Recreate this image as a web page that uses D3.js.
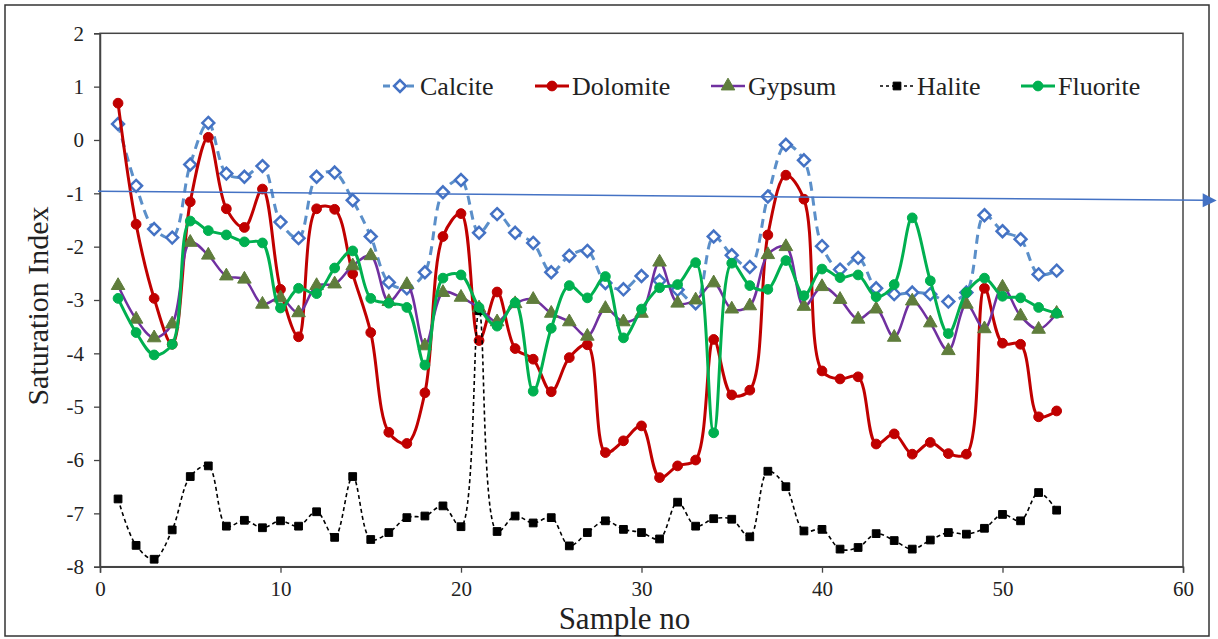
<!DOCTYPE html>
<html>
<head>
<meta charset="UTF-8">
<title>Saturation Index</title>
<script src="https://d3js.org/d3.v7.min.js"></script>
<style>
  body { margin: 0; background: #fff; }
  text { font-family: "Liberation Serif", "DejaVu Serif", serif; fill: #222; }
</style>
</head>
<body>
<div id="chart"></div>
<script>
(function(d3) {

  var samples = [1,2,3,4,5,6,7,8,9,10,11,12,13,14,15,16,17,18,19,20,21,22,23,24,25,26,27,28,29,30,
                 31,32,33,34,35,36,37,38,39,40,41,42,43,44,45,46,47,48,49,50,51,52,53];

  var calcite = [0.30,-0.86,-1.67,-1.83,-0.46,0.32,-0.63,-0.69,-0.49,-1.54,-1.84,-0.69,-0.61,-1.13,-1.81,-2.67,-2.78,-2.48,-0.98,-0.75,
                 -1.74,-1.39,-1.74,-1.93,-2.48,-2.17,-2.08,-2.68,-2.80,-2.55,-2.64,-2.81,-3.06,-1.81,-2.16,-2.38,-1.06,-0.09,-0.38,-1.99,
                 -2.43,-2.21,-2.78,-2.89,-2.86,-2.89,-3.03,-2.86,-1.41,-1.71,-1.86,-2.52,-2.45];
  var dolomite = [0.69,-1.58,-2.97,-3.83,-1.16,0.05,-1.29,-1.64,-0.92,-2.80,-3.69,-1.29,-1.30,-2.51,-3.61,-5.48,-5.69,-4.74,-1.81,-1.38,
                  -3.76,-2.85,-3.91,-4.11,-4.72,-4.08,-3.84,-5.86,-5.64,-5.36,-6.33,-6.11,-6.00,-3.74,-4.78,-4.69,-1.78,-0.66,-1.11,-4.33,
                  -4.48,-4.44,-5.70,-5.51,-5.89,-5.67,-5.88,-5.89,-2.78,-3.81,-3.83,-5.19,-5.08];
  var gypsum = [-2.73,-3.36,-3.71,-3.45,-1.92,-2.16,-2.55,-2.61,-3.08,-2.96,-3.24,-2.73,-2.70,-2.36,-2.17,-3.03,-2.71,-3.86,-2.86,-2.95,
                -3.15,-3.41,-3.07,-2.99,-3.25,-3.41,-3.68,-3.16,-3.41,-3.25,-2.29,-3.06,-3.00,-2.68,-3.17,-3.11,-2.15,-2.00,-3.12,-2.75,
                -2.99,-3.36,-3.17,-3.70,-3.02,-3.43,-3.95,-3.08,-3.54,-2.76,-3.30,-3.55,-3.25];
  var halite = [-6.73,-7.60,-7.86,-7.31,-6.31,-6.11,-7.24,-7.13,-7.27,-7.14,-7.24,-6.97,-7.45,-6.31,-7.49,-7.36,-7.08,-7.05,-6.86,-7.25,
                -3.20,-7.34,-7.05,-7.18,-7.08,-7.61,-7.36,-7.14,-7.30,-7.36,-7.48,-6.79,-7.24,-7.10,-7.11,-7.44,-6.21,-6.50,-7.33,-7.30,
                -7.67,-7.64,-7.38,-7.51,-7.67,-7.50,-7.36,-7.39,-7.28,-7.02,-7.14,-6.61,-6.94];
  var fluorite = [-2.97,-3.61,-4.03,-3.83,-1.52,-1.70,-1.78,-1.91,-1.93,-3.15,-2.78,-2.88,-2.40,-2.08,-2.97,-3.06,-3.14,-4.22,-2.59,-2.53,
                  -3.14,-3.49,-3.05,-4.71,-3.53,-2.73,-2.96,-2.56,-3.71,-3.17,-2.77,-2.71,-2.30,-5.49,-2.31,-2.73,-2.80,-2.26,-2.92,-2.42,
                  -2.58,-2.53,-2.94,-2.71,-1.46,-2.64,-3.63,-2.86,-2.59,-2.93,-2.96,-3.14,-3.25];

  var seriesNames = ['Calcite', 'Dolomite', 'Gypsum', 'Halite', 'Fluorite'];
  var xTicks = [0, 10, 20, 30, 40, 50, 60];
  var yTicks = [-8, -7, -6, -5, -4, -3, -2, -1, 0, 1, 2];
  // annotation arrow drawn across the chart (data units)
  var arrowFrom = [0, -0.96];
  var arrowTo = [61.2, -1.13];

  var width = 1218, height = 639;
  var left = 100, right = 1183, top = 33.3, bottom = 566.7;
  var serif = '"Liberation Serif", "Times New Roman", serif';

  var svg = d3.select('#chart').append('svg')
      .attr('width', width)
      .attr('height', height);

  // outer frame
  svg.append('rect')
      .attr('x', 5).attr('y', 5)
      .attr('width', 1204).attr('height', 631)
      .attr('fill', '#fff')
      .attr('stroke', '#333')
      .attr('stroke-width', 1.5);

  var x = d3.scaleLinear().domain([0, 60]).range([left, right]);
  var y = d3.scaleLinear().domain([-8, 2]).range([bottom, top]);

  // plot border
  svg.append('rect')
      .attr('x', left).attr('y', top)
      .attr('width', right - left).attr('height', bottom - top)
      .attr('fill', 'none')
      .attr('stroke', '#444')
      .attr('stroke-width', 1.5);

  var xAxis = svg.append('g')
      .attr('transform', 'translate(0,' + bottom + ')')
      .call(d3.axisBottom(x).tickValues(xTicks).tickSize(6).tickPadding(8).tickFormat(function(d) { return d; }));
  var yAxis = svg.append('g')
      .attr('transform', 'translate(' + left + ',0)')
      .call(d3.axisLeft(y).tickValues(yTicks).tickSize(6).tickPadding(10).tickFormat(function(d) { return d; }));

  [xAxis, yAxis].forEach(function(g) {
    g.attr('font-family', serif).attr('font-size', 21);
    g.select('.domain').attr('stroke', '#444').attr('stroke-width', 1.5);
    g.selectAll('.tick line').attr('stroke', '#444').attr('stroke-width', 1.3);
    g.selectAll('.tick text').attr('fill', '#222');
  });

  svg.append('text')
      .attr('x', (left + right) / 2 - 17)
      .attr('y', 629)
      .attr('text-anchor', 'middle')
      .attr('font-family', serif)
      .style('font-size', '31px')
      .text('Sample no');

  svg.append('text')
      .attr('transform', 'translate(48,' + ((top + bottom) / 2 + 6) + ') rotate(-90)')
      .attr('text-anchor', 'middle')
      .attr('font-family', serif)
      .style('font-size', '30px')
      .text('Saturation Index');

  var styles = {
    Calcite:  { values: calcite,  line: '#5B8FC9', width: 3,   dash: '9,6', marker: 'diamond', mfill: '#fff',    mstroke: '#4472C4' },
    Dolomite: { values: dolomite, line: '#C00000', width: 3,   dash: null,  marker: 'circle',  mfill: '#C00000', mstroke: '#C00000' },
    Gypsum:   { values: gypsum,   line: '#7030A0', width: 2.5, dash: null,  marker: 'triangle',mfill: '#5F7D3C', mstroke: '#5F7D3C' },
    Halite:   { values: halite,   line: '#000',    width: 1.6, dash: '4,3', marker: 'square',  mfill: '#000',    mstroke: '#000' },
    Fluorite: { values: fluorite, line: '#00B050', width: 3,   dash: null,  marker: 'circle',  mfill: '#00B050', mstroke: '#00B050' }
  };

  function symbolFor(name) {
    var s = styles[name];
    if (s.marker === 'diamond') return d3.symbol().type(d3.symbolDiamond2).size(90)();
    if (s.marker === 'circle') return d3.symbol().type(d3.symbolCircle).size(75)();
    if (s.marker === 'triangle') return d3.symbol().type(d3.symbolTriangle).size(80)();
    return d3.symbol().type(d3.symbolSquare).size(60)();
  }

  var line = d3.line()
      .x(function(d) { return x(d[0]); })
      .y(function(d) { return y(d[1]); })
      .curve(d3.curveCatmullRom.alpha(0.5));

  seriesNames.forEach(function(name) {
    var s = styles[name];
    var pts = samples.map(function(v, i) { return [v, s.values[i]]; });
    var g = svg.append('g');
    g.append('path')
        .attr('d', line(pts))
        .attr('fill', 'none')
        .attr('stroke', s.line)
        .attr('stroke-width', s.width)
        .attr('stroke-dasharray', s.dash);
    g.selectAll('path.pt')
        .data(pts)
        .enter().append('path')
        .attr('class', 'pt')
        .attr('d', symbolFor(name))
        .attr('transform', function(d) { return 'translate(' + x(d[0]) + ',' + y(d[1]) + ')'; })
        .attr('fill', s.mfill)
        .attr('stroke', s.mstroke)
        .attr('stroke-width', s.marker === 'diamond' ? 2.5 : 1);
  });

  // legend
  var legendX = [383, 535, 711, 880, 1021];
  var legend = svg.append('g');
  seriesNames.forEach(function(name, i) {
    var s = styles[name];
    var g = legend.append('g').attr('transform', 'translate(' + legendX[i] + ',86)');
    g.append('line')
        .attr('x1', 0).attr('x2', 34)
        .attr('stroke', s.line)
        .attr('stroke-width', s.width)
        .attr('stroke-dasharray', name === 'Calcite' ? '7,5' : (name === 'Halite' ? '3,3' : null));
    g.append('path')
        .attr('d', symbolFor(name))
        .attr('transform', 'translate(17,0)')
        .attr('fill', s.mfill)
        .attr('stroke', s.mstroke)
        .attr('stroke-width', s.marker === 'diamond' ? 2.5 : 1);
    g.append('text')
        .attr('x', 37)
        .attr('y', 9)
        .attr('font-family', serif)
        .style('font-size', '26px')
        .text(name);
  });

  // blue annotation arrow
  var ax1 = x(arrowFrom[0]) - 2, ay1 = y(arrowFrom[1]);
  var ax2 = x(arrowTo[0]), ay2 = y(arrowTo[1]);
  svg.append('line')
      .attr('x1', ax1).attr('y1', ay1)
      .attr('x2', ax2).attr('y2', ay2)
      .attr('stroke', '#4472C4')
      .attr('stroke-width', 1.5);
  svg.append('path')
      .attr('d', 'M' + (ax2 + 12) + ',' + (ay2 + 0.2) + 'L' + (ax2 - 2) + ',' + (ay2 - 7) + 'L' + (ax2 - 2) + ',' + (ay2 + 7) + 'Z')
      .attr('fill', '#4472C4');

})(window.d3);
</script>
</body>
</html>
